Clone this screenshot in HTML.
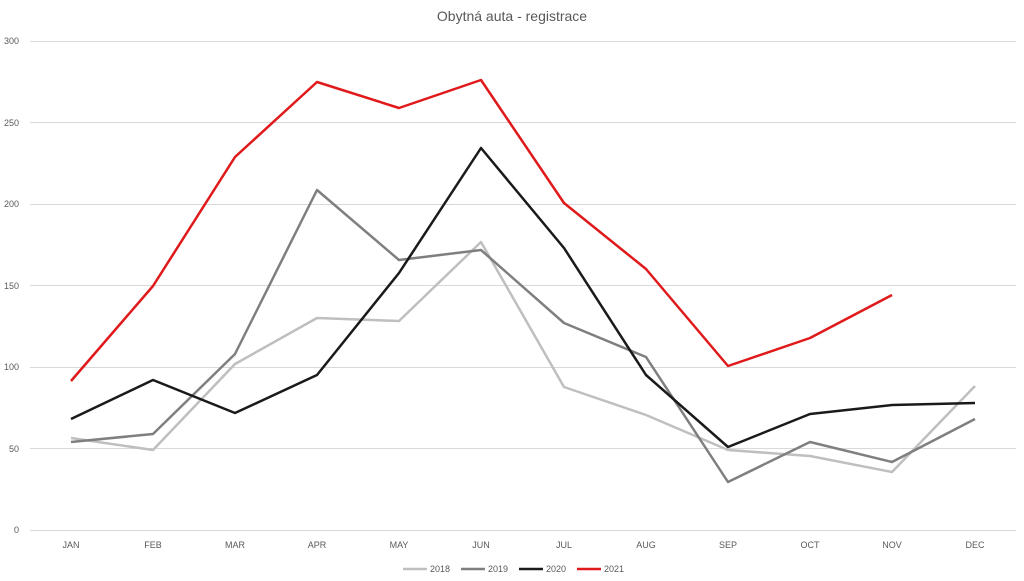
<!DOCTYPE html>
<html><head><meta charset="utf-8"><style>
body{margin:0;background:#fff;}
svg{display:block;font-family:"Liberation Sans",sans-serif;}
</style></head><body>
<svg width="1024" height="581" viewBox="0 0 1024 581">
<rect width="1024" height="581" fill="#fff"/>
<text x="512" y="21" font-size="14" fill="#595959" text-anchor="middle">Obytná auta - registrace</text>
<g stroke="#d9d9d9" stroke-width="1">
<line x1="30" x2="1016" y1="41.5" y2="41.5"/>
<line x1="30" x2="1016" y1="122.5" y2="122.5"/>
<line x1="30" x2="1016" y1="204.5" y2="204.5"/>
<line x1="30" x2="1016" y1="285.5" y2="285.5"/>
<line x1="30" x2="1016" y1="367.5" y2="367.5"/>
<line x1="30" x2="1016" y1="448.5" y2="448.5"/>
<line x1="30" x2="1016" y1="530.5" y2="530.5"/>
</g>
<g font-size="9" fill="#595959" text-anchor="end">
<text x="19" y="44">300</text><text x="19" y="126">250</text><text x="19" y="207">200</text>
<text x="19" y="289">150</text><text x="19" y="370">100</text><text x="19" y="452">50</text><text x="19" y="533">0</text>
</g>
<g font-size="9" fill="#595959" text-anchor="middle">
<text x="71" y="548">JAN</text><text x="153" y="548">FEB</text><text x="235" y="548">MAR</text><text x="317" y="548">APR</text>
<text x="399" y="548">MAY</text><text x="481" y="548">JUN</text><text x="564" y="548">JUL</text><text x="646" y="548">AUG</text>
<text x="728" y="548">SEP</text><text x="810" y="548">OCT</text><text x="892" y="548">NOV</text><text x="975" y="548">DEC</text>
</g>
<g fill="none" stroke-width="2.5" stroke-linejoin="round">
<polyline stroke="#bfbfbf" points="71,438 153,450 235,364 317,318 399,321 481,242 564,387 646,415 728,450 810,456 892,472 975,386"/>
<polyline stroke="#7f7f7f" points="71,442 153,434 235,354 317,190 399,260 481,250 564,323 646,357 728,482 810,442 892,462 975,419"/>
<polyline stroke="#1a1a1a" points="71,419 153,380 235,413 317,375 399,273 481,148 564,248 646,375 728,447 810,414 892,405 975,403"/>
<polyline stroke="#e0191b" points="71,381 153,286 235,157 317,82 399,108 481,80 564,203 646,269 728,366 810,338 892,295"/>
</g>
<g font-size="9" fill="#595959" stroke-width="2.5">
<line x1="403" x2="427" y1="569" y2="569" stroke="#bfbfbf"/><text x="430" y="572">2018</text>
<line x1="461" x2="485" y1="569" y2="569" stroke="#7f7f7f"/><text x="488" y="572">2019</text>
<line x1="519" x2="543" y1="569" y2="569" stroke="#1a1a1a"/><text x="546" y="572">2020</text>
<line x1="577" x2="601" y1="569" y2="569" stroke="#e0191b"/><text x="604" y="572">2021</text>
</g>
</svg>
</body></html>
